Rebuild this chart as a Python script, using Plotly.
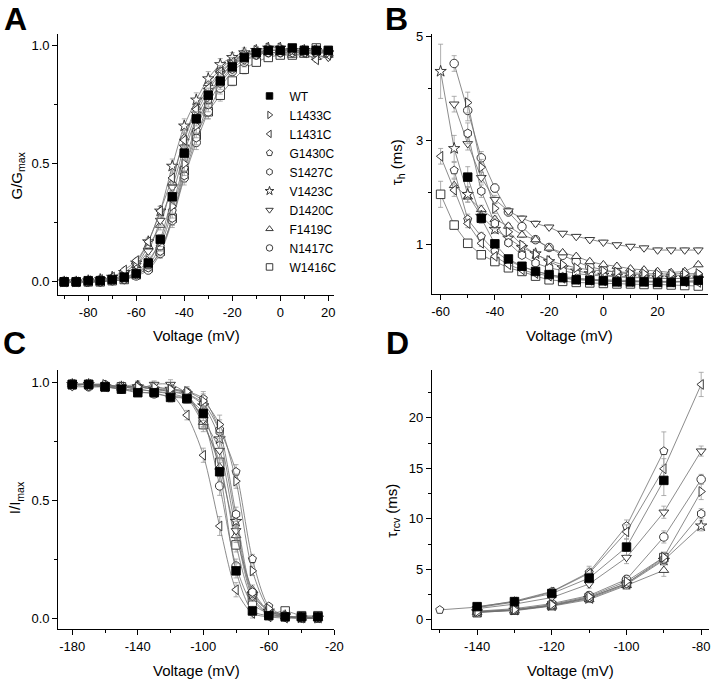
import plotly.graph_objects as go

# ---- data -------------------------------------------------------------
names = ["WT", "L1433C", "L1431C", "G1430C", "S1427C",
         "V1423C", "D1420C", "F1419C", "N1417C", "W1416C"]
symbols = ["square", "triangle-right", "triangle-left", "pentagon",
           "hexagon", "star", "triangle-down", "triangle-up",
           "circle", "square"]

# A: activation, G/Gmax
volt_A = [-90, -85, -80, -75, -70, -65, -60, -55, -50, -45, -40, -35,
          -30, -25, -20, -15, -10, -5, 0, 5, 10, 15, 20]
g_A = [
    [0.00, 0.00, 0.005, 0.005, 0.01, 0.02, 0.035, 0.08, 0.18, 0.36, 0.545, 0.69, 0.79, 0.85, 0.91, 0.95, 0.97, 0.98, 0.98, 0.99, 0.98, 0.98, 0.98],
    [0.00, 0.00, 0.00, 0.005, 0.01, 0.02, 0.04, 0.09, 0.17, 0.32, 0.50, 0.66, 0.78, 0.87, 0.92, 0.96, 0.98, 0.99, 0.99, 0.98, 0.98, 0.98, 0.97],
    [0.00, 0.00, 0.005, 0.01, 0.02, 0.05, 0.09, 0.17, 0.30, 0.44, 0.60, 0.73, 0.82, 0.89, 0.93, 0.96, 0.97, 0.98, 0.98, 0.98, 0.97, 0.94, 0.96],
    [0.00, 0.00, 0.00, 0.005, 0.01, 0.015, 0.035, 0.07, 0.15, 0.30, 0.48, 0.64, 0.77, 0.86, 0.92, 0.95, 0.97, 0.98, 0.98, 0.98, 0.98, 0.97, 0.97],
    [0.00, 0.00, 0.00, 0.00, 0.005, 0.01, 0.03, 0.06, 0.13, 0.27, 0.45, 0.61, 0.75, 0.84, 0.90, 0.94, 0.96, 0.97, 0.97, 0.97, 0.97, 0.97, 0.97],
    [0.00, 0.00, 0.005, 0.01, 0.02, 0.04, 0.08, 0.17, 0.30, 0.49, 0.66, 0.77, 0.86, 0.92, 0.95, 0.97, 0.98, 0.99, 0.99, 0.98, 0.98, 0.98, 0.97],
    [0.00, 0.00, 0.00, 0.005, 0.01, 0.03, 0.07, 0.13, 0.26, 0.40, 0.57, 0.71, 0.81, 0.88, 0.93, 0.96, 0.97, 0.97, 0.97, 0.97, 0.97, 0.96, 0.95],
    [0.00, 0.00, 0.005, 0.01, 0.015, 0.03, 0.07, 0.15, 0.24, 0.42, 0.61, 0.74, 0.84, 0.90, 0.94, 0.96, 0.97, 0.97, 0.97, 0.96, 0.96, 0.95, 0.96],
    [0.00, 0.00, 0.00, 0.00, 0.005, 0.01, 0.025, 0.05, 0.12, 0.26, 0.44, 0.59, 0.72, 0.82, 0.89, 0.93, 0.96, 0.97, 0.97, 0.98, 0.97, 0.97, 0.97],
    [0.00, 0.00, 0.00, 0.00, 0.005, 0.01, 0.03, 0.06, 0.13, 0.27, 0.47, 0.62, 0.72, 0.79, 0.85, 0.90, 0.93, 0.95, 0.96, 0.96, 0.97, 0.99, 0.97],
]
err_A = [0.005, 0.005, 0.005, 0.005, 0.005, 0.01, 0.01, 0.015, 0.02, 0.03, 0.03, 0.03,
         0.03, 0.025, 0.02, 0.02, 0.015, 0.01, 0.01, 0.01, 0.01, 0.01, 0.01]

# B: inactivation time constant tau_h (ms)
volt_B = [-60, -55, -50, -45, -40, -35, -30, -25, -20, -15,
          -10, -5, 0, 5, 10, 15, 20, 25, 30, 35]
tau_B = [
    [None, None, 2.30, 1.51, 1.02, 0.73, 0.59, 0.49, 0.43, 0.37, 0.33, 0.32, 0.31, 0.29, 0.29, 0.29, 0.28, 0.28, 0.30, 0.32],
    [None, None, 3.73, 2.49, 1.70, 1.25, 1.00, 0.82, 0.70, 0.62, 0.56, 0.52, 0.50, 0.48, 0.46, 0.45, 0.44, 0.44, 0.45, 0.45],
    [2.70, 2.05, 1.41, 1.03, 0.78, 0.62, 0.52, 0.45, 0.40, 0.36, 0.34, 0.32, 0.31, 0.30, 0.30, 0.30, 0.29, 0.29, 0.29, 0.28],
    [None, 2.43, 1.49, 1.16, 0.88, 0.70, 0.58, 0.50, 0.43, 0.39, 0.36, 0.34, 0.33, 0.32, 0.31, 0.31, 0.30, 0.30, 0.30, 0.30],
    [None, None, 3.14, 2.03, 1.41, 1.04, 0.80, 0.65, 0.56, 0.50, 0.45, 0.42, 0.40, 0.38, 0.37, 0.37, 0.36, 0.35, 0.36, 0.37],
    [4.33, 2.85, 1.97, 1.55, 1.30, 1.13, 0.95, 0.83, 0.68, 0.56, 0.50, 0.45, 0.42, 0.40, 0.38, 0.37, 0.36, 0.36, 0.36, 0.35],
    [None, 3.70, 2.94, 2.29, 1.87, 1.65, 1.51, 1.41, 1.34, 1.22, 1.16, 1.10, 1.05, 1.00, 0.97, 0.94, 0.90, 0.90, 0.90, 0.90],
    [None, 2.14, 1.92, 1.68, 1.49, 1.36, 1.19, 1.10, 0.94, 0.85, 0.78, 0.68, 0.62, 0.59, 0.54, 0.52, 0.49, 0.47, 0.49, 0.62],
    [None, 4.48, 3.58, 2.67, 2.09, 1.63, 1.35, 1.10, 0.95, 0.80, 0.68, 0.58, 0.52, 0.47, 0.44, 0.42, 0.41, 0.40, 0.42, 0.42],
    [1.97, 1.38, 1.03, 0.81, 0.68, 0.56, 0.49, 0.40, 0.33, 0.30, 0.28, 0.27, 0.26, 0.25, 0.25, 0.24, 0.24, 0.23, 0.22, 0.21],
]
err_B = [
    [0, 0, 0.20, 0.10, 0.06, 0.04, 0.03, 0.03, 0.02, 0.02, 0.02, 0.02, 0.02, 0.02, 0.02, 0.02, 0.02, 0.02, 0.02, 0.02],
    [0, 0, 0.20, 0.15, 0.10, 0.07, 0.06, 0.05, 0.04, 0.04, 0.04, 0.04, 0.03, 0.03, 0.03, 0.03, 0.03, 0.03, 0.03, 0.03],
    [0.15, 0.12, 0.08, 0.06, 0.05, 0.04, 0.03, 0.03, 0.03, 0.02, 0.02, 0.02, 0.02, 0.02, 0.02, 0.02, 0.02, 0.02, 0.02, 0.02],
    [0, 0.15, 0.10, 0.08, 0.06, 0.05, 0.04, 0.03, 0.03, 0.03, 0.02, 0.02, 0.02, 0.02, 0.02, 0.02, 0.02, 0.02, 0.02, 0.02],
    [0, 0, 0.20, 0.12, 0.10, 0.07, 0.05, 0.04, 0.04, 0.03, 0.03, 0.03, 0.03, 0.03, 0.03, 0.03, 0.03, 0.03, 0.03, 0.03],
    [0.52, 0.25, 0.15, 0.10, 0.08, 0.06, 0.05, 0.05, 0.04, 0.04, 0.03, 0.03, 0.03, 0.03, 0.03, 0.03, 0.03, 0.03, 0.03, 0.03],
    [0, 0.15, 0.12, 0.10, 0.08, 0.06, 0.05, 0.05, 0.04, 0.04, 0.04, 0.04, 0.04, 0.04, 0.04, 0.04, 0.04, 0.04, 0.04, 0.04],
    [0, 0.12, 0.10, 0.08, 0.06, 0.05, 0.05, 0.04, 0.04, 0.04, 0.04, 0.04, 0.04, 0.04, 0.04, 0.04, 0.04, 0.04, 0.04, 0.04],
    [0, 0.15, 0.20, 0.12, 0.08, 0.06, 0.05, 0.05, 0.04, 0.04, 0.04, 0.03, 0.03, 0.03, 0.03, 0.03, 0.03, 0.03, 0.03, 0.03],
    [0.25, 0.08, 0.05, 0.04, 0.03, 0.03, 0.03, 0.03, 0.02, 0.02, 0.02, 0.02, 0.02, 0.02, 0.02, 0.02, 0.02, 0.02, 0.02, 0.02],
]

# C: steady-state inactivation, I/Imax
volt_C = [-180, -170, -160, -150, -140, -130, -120, -110,
          -100, -90, -80, -70, -60, -50, -40, -30]
i_C = [
    [0.99, 0.99, 0.98, 0.97, 0.955, 0.955, 0.935, 0.93, 0.867, 0.62, 0.20, 0.03, 0.01, 0.005, 0.005, 0.005],
    [0.99, 0.99, 0.99, 0.98, 0.98, 0.98, 0.97, 0.96, 0.92, 0.82, 0.58, 0.20, 0.04, 0.01, 0.005, 0.0],
    [0.99, 0.99, 0.98, 0.98, 0.97, 0.96, 0.95, 0.86, 0.69, 0.39, 0.12, 0.02, 0.005, 0.0, 0.0, 0.0],
    [0.99, 0.99, 0.99, 0.98, 0.98, 0.97, 0.97, 0.96, 0.93, 0.80, 0.62, 0.25, 0.05, 0.01, 0.0, 0.0],
    [0.99, 0.99, 0.99, 0.98, 0.98, 0.97, 0.96, 0.95, 0.91, 0.79, 0.44, 0.11, 0.03, 0.01, 0.0, 0.0],
    [0.99, 0.99, 0.98, 0.98, 0.98, 0.97, 0.97, 0.95, 0.90, 0.76, 0.41, 0.10, 0.03, 0.01, 0.0, 0.0],
    [0.98, 0.98, 0.98, 0.97, 0.97, 0.99, 0.99, 0.95, 0.84, 0.71, 0.37, 0.09, 0.02, 0.005, 0.0, 0.0],
    [0.99, 0.99, 0.98, 0.98, 0.99, 0.97, 0.96, 0.94, 0.83, 0.64, 0.35, 0.12, 0.03, 0.005, 0.0, 0.0],
    [0.99, 0.98, 0.98, 0.97, 0.96, 0.95, 0.94, 0.93, 0.84, 0.56, 0.22, 0.06, 0.02, 0.005, 0.0, 0.0],
    [0.99, 0.99, 0.98, 0.98, 0.97, 0.96, 0.95, 0.93, 0.82, 0.66, 0.31, 0.08, 0.02, 0.03, 0.01, 0.01],
]
err_C = [0.01, 0.01, 0.01, 0.01, 0.015, 0.015, 0.02, 0.02, 0.03, 0.04, 0.03, 0.02,
         0.01, 0.01, 0.01, 0.01]

# D: recovery time constant tau_rcv (ms)
volt_D = [-150, -140, -130, -120, -110, -100, -90, -80]
tau_D = [
    [None, 1.30, 1.80, 2.60, 4.13, 7.20, 13.8, None],
    [None, 0.80, 1.00, 1.50, 2.30, 3.80, 6.20, 12.7],
    [None, 1.20, 1.75, 2.75, 4.60, 8.70, 14.95, 23.3],
    [0.98, 1.25, 1.85, 2.80, 4.70, 9.28, 16.7, None],
    [None, 0.75, 1.00, 1.45, 2.20, 3.60, 6.00, 10.5],
    [None, 0.80, 0.95, 1.40, 2.10, 3.50, 5.90, 9.30],
    [None, 1.10, 1.55, 2.20, 3.54, 6.16, 10.65, 16.7],
    [None, 0.75, 0.90, 1.35, 2.00, 3.40, 4.90, None],
    [None, 0.85, 1.10, 1.60, 2.40, 4.00, 8.20, 13.9],
    [None, 0.70, 0.95, 1.40, 2.20, 3.60, 6.16, None],
]
err_D = [
    [0, 0.15, 0.20, 0.30, 0.50, 0.80, 1.50, 0],
    [0, 0.10, 0.15, 0.20, 0.30, 0.40, 0.50, 0.80],
    [0, 0.15, 0.20, 0.30, 0.50, 0.70, 1.00, 1.20],
    [0.10, 0.15, 0.20, 0.30, 0.60, 0.60, 1.90, 0],
    [0, 0.10, 0.15, 0.20, 0.30, 0.40, 0.50, 0.50],
    [0, 0.10, 0.15, 0.20, 0.30, 0.40, 0.50, 0.50],
    [0, 0.15, 0.20, 0.30, 0.40, 0.60, 0.60, 0.50],
    [0, 0.10, 0.15, 0.20, 0.30, 0.40, 0.60, 0],
    [0, 0.10, 0.15, 0.20, 0.30, 0.40, 0.60, 0.50],
    [0, 0.10, 0.15, 0.20, 0.30, 0.40, 0.50, 0],
]

# tick labels (hyphen minus like the original)
ticks_A_x = [-80, -60, -40, -20, 0, 20]
ticks_B_x = [-60, -40, -20, 0, 20]
ticks_C_x = [-180, -140, -100, -60, -20]
ticks_D_x = [-140, -120, -100, -80]
ticks_frac = [0.0, 0.5, 1.0]
ticks_B_y = [1, 3, 5]
ticks_D_y = [0, 5, 10, 15, 20]

# ---- figure -----------------------------------------------------------
FONT = "Liberation Sans, Arial, sans-serif"
W, H = 720, 680
MARKER_LINE = "#262626"
LINE_COL = "#6e6e6e"
ERR_COL = "#9a9a9a"


def px_x(p):
    return p / W


def px_y(p):
    return 1 - p / H


def marker_style(i, size):
    # WT is solid black, mutants are white-filled (hides the line underneath)
    filled = i == 0
    return dict(symbol=symbols[i], size=size,
                color="black" if filled else "white",
                line=dict(color="black" if filled else MARKER_LINE, width=0.9))


fig = go.Figure()


def add_series(xs, rows, errs, xa, ya, spline):
    # reversed so that WT ends up drawn on top
    for i in reversed(range(len(names))):
        err = errs[i] if isinstance(errs[0], list) else errs
        fig.add_trace(go.Scatter(
            x=xs, y=rows[i], xaxis=xa, yaxis=ya,
            mode="lines+markers",
            line=dict(color=LINE_COL, width=0.8, shape="spline" if spline else "linear",
                      smoothing=0.8),
            marker=marker_style(i, 8.5),
            error_y=dict(type="data", array=err, color=ERR_COL, thickness=0.8, width=2.5),
            connectgaps=False,
            showlegend=False,
            cliponaxis=False,
        ))


add_series(volt_A, g_A, err_A, "x", "y", True)
add_series(volt_B, tau_B, err_B, "x2", "y2", False)
add_series(volt_C, i_C, err_C, "x3", "y3", True)
add_series(volt_D, tau_D, err_D, "x4", "y4", False)

# legend-only entries (marker without line)
for i, name in enumerate(names):
    fig.add_trace(go.Scatter(
        x=[None], y=[None], xaxis="x", yaxis="y", mode="markers", name=name,
        marker=marker_style(i, 6.5),
    ))


def axis(dom_px, rng, tickvals, minor_dtick, horizontal, anchor, fmt=None):
    if horizontal:
        domain = [px_x(dom_px[0]), px_x(dom_px[1])]
    else:
        domain = [px_y(dom_px[1]), px_y(dom_px[0])]
    ticktext = [fmt.format(v) if fmt else str(v) for v in tickvals]
    return dict(
        domain=domain, range=rng, anchor=anchor,
        showline=True, linecolor="black", linewidth=1.2, mirror=False,
        showgrid=False, zeroline=False,
        ticks="outside", ticklen=5, tickwidth=1, tickcolor="black",
        tickvals=tickvals, ticktext=ticktext,
        tickfont=dict(family=FONT, size=13, color="black"),
        minor=dict(ticks="outside", ticklen=3, tickwidth=1, tickcolor="black",
                   dtick=minor_dtick, tick0=0, showgrid=False),
    )


fig.update_layout(
    width=W, height=H,
    margin=dict(l=0, r=0, t=0, b=0),
    paper_bgcolor="white", plot_bgcolor="white",
    font=dict(family=FONT, size=13, color="black"),
    xaxis=axis((58, 338), [-92.5, 22.5], ticks_A_x, 10, True, "y"),
    yaxis=axis((29, 292), [-0.055, 1.05], ticks_frac, 0.25, False, "x", "{:.1f}"),
    xaxis2=axis((437, 717), [-63.2, 38.6], ticks_B_x, 10, True, "y2"),
    yaxis2=axis((29, 291), [0.06, 5.05], ticks_B_y, 1, False, "x2"),
    xaxis3=axis((58, 338), [-188.6, -20], ticks_C_x, 20, True, "y3"),
    yaxis3=axis((368, 629), [-0.048, 1.05], ticks_frac, 0.25, False, "x3", "{:.1f}"),
    xaxis4=axis((437, 718), [-152.1, -77.9], ticks_D_x, 10, True, "y4"),
    yaxis4=axis((368, 629), [-0.95, 24.7], ticks_D_y, 2.5, False, "x4"),
    legend=dict(x=px_x(252), y=px_y(77), xanchor="left", yanchor="top",
                bgcolor="rgba(0,0,0,0)", font=dict(family=FONT, size=12, color="black"),
                tracegroupgap=0, itemwidth=30),
)

# panel letters
for letter, xp, yp in [("A", 15, 14), ("B", 401, 14), ("C", 14, 341), ("D", 402, 341)]:
    fig.add_annotation(text=f"<b>{letter}</b>", x=px_x(xp), y=px_y(yp), xref="paper",
                       yref="paper", showarrow=False, xanchor="center", yanchor="middle",
                       font=dict(family=FONT, size=32, color="black"))

# axis titles
titles = [
    ("Voltage (mV)", 198, 333, 0),
    ("Voltage (mV)", 577, 333, 0),
    ("Voltage (mV)", 198, 670, 0),
    ("Voltage (mV)", 578, 670, 0),
    ("G/G<sub>max</sub>", 17, 172, -90),
    ("τ<sub>h</sub> (ms)", 402, 158, -90),
    ("I/I<sub>max</sub>", 15, 496, -90),
    ("τ<sub>rcv</sub> (ms)", 397, 509, -90),
]
for text, xp, yp, ang in titles:
    fig.add_annotation(text=text, x=px_x(xp), y=px_y(yp), xref="paper", yref="paper",
                       showarrow=False, xanchor="center", yanchor="middle", textangle=ang,
                       font=dict(family=FONT, size=15, color="black"))

# the page's default body margin would shift the whole figure
fig.write_html("out.html", config={"displayModeBar": False},
               post_script="document.body.style.margin='0';document.body.style.padding='0';")
